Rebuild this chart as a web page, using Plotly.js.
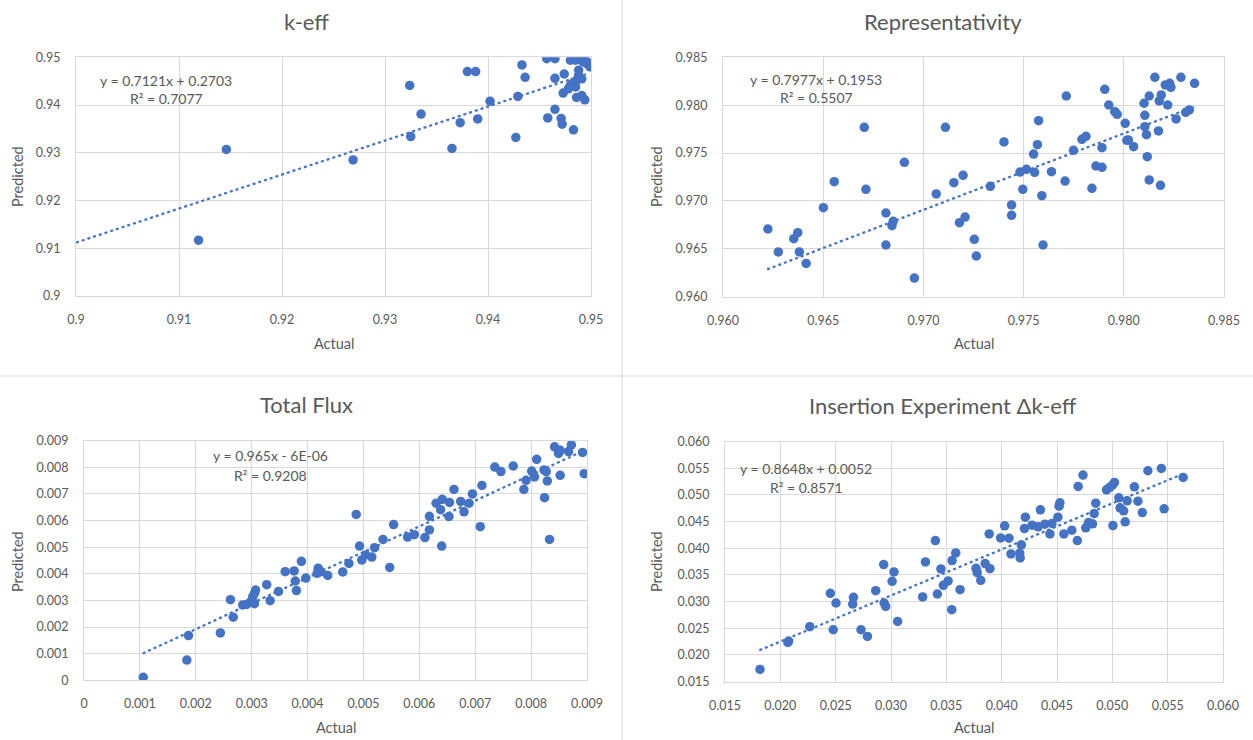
<!DOCTYPE html>
<html>
<head>
<meta charset="utf-8">
<script src="https://cdn.plot.ly/plotly-3.0.1.min.js"></script>
<style>html,body{margin:0;padding:0;background:#fff;}#chart{width:1253px;height:740px;}</style>
</head>
<body>
<div id="chart"></div>
<script>
// ---------- DATA ----------
const panelTitles = ["k-eff", "Representativity", "Total Flux", "Insertion Experiment \u0394k-eff"];
const xAxisTitle = "Actual";
const yAxisTitle = "Predicted";

const keffActual = [0.9119,0.9146,0.9269,0.9324,0.9325,0.9335,0.9365,0.9373,0.9380,0.9388,0.9390,0.9402,0.9427,0.9429,0.9433,0.9436,0.9457,0.9465,0.9458,0.9465,0.9465,0.9471,0.9472,0.9474,0.9473,0.9483,0.9480,0.9485,0.9491,0.9496,0.9499,0.9488,0.9491,0.9486,0.9483,0.9480,0.9485,0.9478,0.9488,0.9486,0.9491,0.9494,0.9493,0.9497];
const keffPredicted = [0.9117,0.9307,0.9285,0.9441,0.9334,0.9381,0.9309,0.9363,0.9470,0.9470,0.9371,0.9408,0.9332,0.9418,0.9484,0.9458,0.9497,0.9497,0.9373,0.9456,0.9391,0.9372,0.9360,0.9465,0.9425,0.9348,0.9494,0.9494,0.9493,0.9491,0.9480,0.9473,0.9455,0.9452,0.9447,0.9441,0.9438,0.9434,0.9462,0.9416,0.9420,0.9411,0.9490,0.9485];

const repActual = [0.96224,0.96276,0.96353,0.96373,0.96381,0.96415,0.96501,0.96555,0.96705,0.96713,0.96813,0.96813,0.96843,0.96849,0.96905,0.96955,0.97064,0.97110,0.97152,0.97180,0.97198,0.97208,0.97254,0.97264,0.97334,0.97402,0.97440,0.97440,0.97482,0.97514,0.97496,0.97550,0.97555,0.97569,0.97575,0.97591,0.97597,0.97639,0.97707,0.97713,0.97749,0.97791,0.97811,0.97841,0.97861,0.97891,0.97891,0.97905,0.97925,0.97955,0.97967,0.98007,0.98015,0.98023,0.98049,0.98101,0.98105,0.98105,0.98113,0.98117,0.98127,0.98127,0.98155,0.98173,0.98177,0.98187,0.98183,0.98207,0.98219,0.98229,0.98235,0.98261,0.98285,0.98309,0.98327,0.98353];
const repPredicted = [0.96707,0.96467,0.96606,0.96669,0.96467,0.96348,0.96930,0.97201,0.97769,0.97121,0.96874,0.96540,0.96742,0.96787,0.97403,0.96195,0.97073,0.97769,0.97191,0.96773,0.97267,0.96832,0.96599,0.96425,0.97153,0.97616,0.96958,0.96850,0.97302,0.97330,0.97121,0.97490,0.97299,0.97588,0.97838,0.97055,0.96540,0.97306,0.97208,0.98096,0.97529,0.97643,0.97675,0.97132,0.97365,0.97351,0.97556,0.98166,0.98002,0.97932,0.97905,0.97811,0.97633,0.97637,0.97567,0.98020,0.97894,0.97776,0.97692,0.97462,0.97219,0.98096,0.98291,0.97731,0.98044,0.98107,0.97163,0.98211,0.98002,0.98228,0.98187,0.97856,0.98291,0.97926,0.97950,0.98228];

const fluxActual = [0.00106,0.00184,0.00187,0.00244,0.00262,0.00267,0.00284,0.00291,0.00298,0.00305,0.00302,0.00305,0.00307,0.00327,0.00333,0.00348,0.00360,0.00376,0.00378,0.00380,0.00389,0.00397,0.00417,0.00419,0.00424,0.00436,0.00463,0.00474,0.00487,0.00493,0.00497,0.00504,0.00515,0.00520,0.00535,0.00547,0.00554,0.00579,0.00591,0.00610,0.00618,0.00618,0.00630,0.00638,0.00641,0.00640,0.00653,0.00654,0.00662,0.00674,0.00680,0.00689,0.00695,0.00709,0.00712,0.00735,0.00746,0.00768,0.00787,0.00791,0.00801,0.00806,0.00810,0.00823,0.00824,0.00827,0.00829,0.00833,0.00842,0.00849,0.00852,0.00852,0.00867,0.00872,0.00892,0.00895];
const fluxPredicted = [0.00011,0.00076,0.00168,0.00178,0.00303,0.00237,0.00283,0.00285,0.00295,0.00288,0.00314,0.00327,0.00339,0.00359,0.00299,0.00334,0.00408,0.00411,0.00373,0.00337,0.00447,0.00384,0.00402,0.00421,0.00408,0.00394,0.00407,0.00439,0.00623,0.00504,0.00452,0.00471,0.00463,0.00498,0.00529,0.00424,0.00585,0.00538,0.00547,0.00536,0.00565,0.00616,0.00665,0.00641,0.00680,0.00504,0.00615,0.00668,0.00717,0.00672,0.00633,0.00665,0.00700,0.00577,0.00732,0.00801,0.00784,0.00805,0.00717,0.00751,0.00786,0.00764,0.00830,0.00790,0.00686,0.00784,0.00749,0.00529,0.00877,0.00852,0.00864,0.00770,0.00859,0.00884,0.00856,0.00776];

const insActual = [0.01816,0.02068,0.02075,0.02266,0.02452,0.02478,0.02503,0.02654,0.02661,0.02729,0.02787,0.02862,0.02934,0.02938,0.02952,0.03010,0.03027,0.03060,0.03286,0.03311,0.03401,0.03419,0.03451,0.03473,0.03516,0.03549,0.03552,0.03585,0.03624,0.03768,0.03779,0.03811,0.03851,0.03887,0.03894,0.03991,0.04027,0.04066,0.04084,0.04163,0.04167,0.04178,0.04206,0.04214,0.04275,0.04329,0.04350,0.04390,0.04436,0.04454,0.04508,0.04519,0.04526,0.04562,0.04634,0.04684,0.04691,0.04735,0.04760,0.04785,0.04821,0.04836,0.04850,0.04947,0.04976,0.05001,0.05019,0.05005,0.05059,0.05070,0.05102,0.05116,0.05134,0.05199,0.05231,0.05271,0.05321,0.05443,0.05468,0.05640];
const insPredicted = [0.01726,0.02233,0.02258,0.02528,0.03155,0.02471,0.02973,0.02954,0.03080,0.02471,0.02346,0.03205,0.03694,0.02973,0.02910,0.03380,0.03556,0.02628,0.03086,0.03744,0.04145,0.03142,0.03612,0.03305,0.03387,0.02848,0.03769,0.03913,0.03224,0.03625,0.03543,0.03399,0.03712,0.04270,0.03618,0.04195,0.04421,0.04189,0.03894,0.03907,0.03819,0.04063,0.04370,0.04584,0.04433,0.04402,0.04722,0.04452,0.04270,0.04465,0.04584,0.04791,0.04853,0.04270,0.04339,0.04145,0.05160,0.05373,0.04383,0.04483,0.04458,0.04652,0.04847,0.05097,0.05141,0.05185,0.05235,0.04427,0.04947,0.04759,0.04703,0.04496,0.04890,0.05154,0.04884,0.04671,0.05455,0.05499,0.04740,0.05330];

// trendline coefficients (from chart labels) and x extent
const trendSlope = [0.7121, 0.7977, 0.965, 0.8648];
const trendIntercept = [0.2703, 0.1953, -0.000006, 0.0052];
const trendStart = [0.9, 0.9622, 0.00105, 0.0181];
const trendEnd = [0.9497, 0.9835, 0.00895, 0.0564];
const eqLabels = ["y = 0.7121x + 0.2703", "y = 0.7977x + 0.1953", "y = 0.965x - 6E-06", "y = 0.8648x + 0.0052"];
const r2Labels = ["R\u00b2 = 0.7077", "R\u00b2 = 0.5507", "R\u00b2 = 0.9208", "R\u00b2 = 0.8571"];

// axis ranges and tick labels
const axisRangeX = [[0.9,0.95],[0.960,0.985],[0,0.009],[0.015,0.060]];
const axisRangeY = [[0.9,0.95],[0.960,0.985],[0,0.009],[0.015,0.060]];
const tickVals = [
  [0.9,0.91,0.92,0.93,0.94,0.95],
  [0.960,0.965,0.970,0.975,0.980,0.985],
  [0,0.001,0.002,0.003,0.004,0.005,0.006,0.007,0.008,0.009],
  [0.015,0.020,0.025,0.030,0.035,0.040,0.045,0.050,0.055,0.060]
];
const tickText = [
  ["0.9","0.91","0.92","0.93","0.94","0.95"],
  ["0.960","0.965","0.970","0.975","0.980","0.985"],
  ["0","0.001","0.002","0.003","0.004","0.005","0.006","0.007","0.008","0.009"],
  ["0.015","0.020","0.025","0.030","0.035","0.040","0.045","0.050","0.055","0.060"]
];

// ---------- LAYOUT (pixel geometry) ----------
const W = 1253, H = 740;
const plotBoxes = [ // left, right, top, bottom in px
  [76, 591, 57.3, 296],
  [723, 1224, 57.3, 296.7],
  [84, 587, 440.7, 680.3],
  [725, 1223, 441.7, 681.5]
];
const titlePos = [[306,21],[943,21],[306,405],[943,406]];
const xTitlePos = [[334,343],[974,343],[336,727],[974,727]];
const yTitlePos = [[17,177],[656,177],[17,562],[656,562]];
const eqPos = [[166,80,99],[816,79,98],[270,455,475],[806,468,487]];

const px = x => x / W;
const py = y => 1 - y / H;

const blue = '#4472C4';
const grey = '#595959';
const gridC = '#d9d9d9';
const FONT = 'Lato, "Open Sans", sans-serif';

const xs = [keffActual, repActual, fluxActual, insActual];
const ys = [keffPredicted, repPredicted, fluxPredicted, insPredicted];

const traces = [];
const layout = {
  width: W, height: H,
  margin: {l:0, r:0, t:0, b:0},
  paper_bgcolor: '#fff', plot_bgcolor: '#fff',
  showlegend: false,
  font: {family: FONT, color: grey},
  annotations: [],
  shapes: [
    {type:'line', xref:'paper', yref:'paper', x0:0, x1:1, y0:py(376), y1:py(376), line:{color:gridC, width:1}},
    {type:'line', xref:'paper', yref:'paper', x0:px(622), x1:px(622), y0:0, y1:1, line:{color:gridC, width:1}}
  ]
};

for (let i = 0; i < 4; i++) {
  const sfx = i === 0 ? '' : String(i + 1);
  const xa = 'x' + sfx, ya = 'y' + sfx;
  traces.push({
    type: 'scatter', mode: 'markers', x: xs[i], y: ys[i], xaxis: xa, yaxis: ya,
    marker: {color: blue, size: 9.5}, hoverinfo: 'x+y'
  });
  const tx = [trendStart[i], trendEnd[i]];
  traces.push({
    type: 'scatter', mode: 'lines', x: tx, y: tx.map(v => trendSlope[i] * v + trendIntercept[i]),
    xaxis: xa, yaxis: ya, line: {color: blue, width: 2.25, dash: 'dot'}, hoverinfo: 'skip'
  });
  const b = plotBoxes[i];
  const common = {
    showgrid: true, gridcolor: gridC, gridwidth: 1, zeroline: false,
    showline: true, linecolor: gridC, linewidth: 1, mirror: true,
    ticks: '', tickmode: 'array', tickfont: {size: 12.5, color: grey, family: FONT},
    fixedrange: true
  };
  layout['xaxis' + sfx] = Object.assign({}, common, {
    domain: [px(b[0]), px(b[1])], range: axisRangeX[i], anchor: ya,
    tickvals: tickVals[i], ticktext: tickText[i], ticklabelstandoff: 12
  });
  layout['yaxis' + sfx] = Object.assign({}, common, {
    domain: [py(b[3]), py(b[2])], range: axisRangeY[i], anchor: xa,
    tickvals: tickVals[i], ticktext: tickText[i], ticklabelstandoff: 12
  });
  layout.annotations.push(
    {text: panelTitles[i], xref:'paper', yref:'paper', x: px(titlePos[i][0]), y: py(titlePos[i][1]),
     xanchor:'center', yanchor:'middle', showarrow:false, font:{size: 22, color: grey, family: FONT}},
    {text: xAxisTitle, xref:'paper', yref:'paper', x: px(xTitlePos[i][0]), y: py(xTitlePos[i][1]),
     xanchor:'center', yanchor:'middle', showarrow:false, font:{size: 14.5, color: grey, family: FONT}},
    {text: yAxisTitle, xref:'paper', yref:'paper', x: px(yTitlePos[i][0]), y: py(yTitlePos[i][1]),
     xanchor:'center', yanchor:'middle', showarrow:false, textangle: -90, font:{size: 14.5, color: grey, family: FONT}},
    {text: eqLabels[i], xref:'paper', yref:'paper', x: px(eqPos[i][0]), y: py(eqPos[i][1]),
     xanchor:'center', yanchor:'middle', showarrow:false, font:{size: 14, color: grey, family: FONT}},
    {text: r2Labels[i], xref:'paper', yref:'paper', x: px(eqPos[i][0]), y: py(eqPos[i][2]),
     xanchor:'center', yanchor:'middle', showarrow:false, font:{size: 14, color: grey, family: FONT}}
  );
}

Plotly.newPlot('chart', traces, layout, {displayModeBar: false, staticPlot: false});
</script>
</body>
</html>
